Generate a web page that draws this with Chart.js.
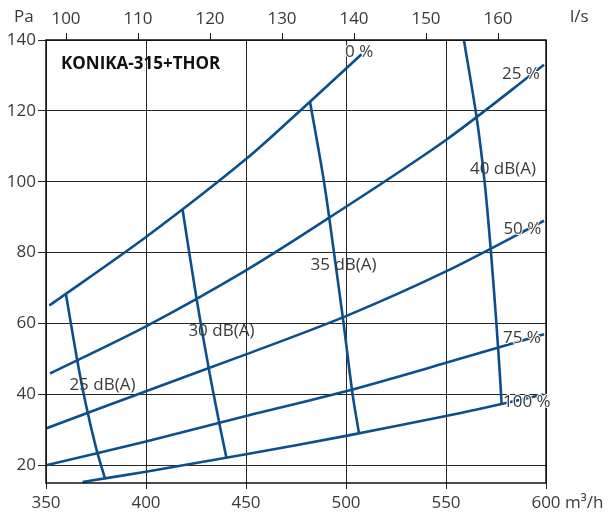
<!DOCTYPE html>
<html>
<head>
<meta charset="utf-8">
<script src="https://cdn.jsdelivr.net/npm/chart.js@4/dist/chart.umd.min.js"></script>
<style>
  body { margin: 0; background: #fff; }
  #wrap { width: 613px; height: 521px; }
</style>
</head>
<body>
<div id="wrap"><canvas id="myChart"></canvas></div>
<script>
// axis ticks
const xTicks = [350, 400, 450, 500, 550, 600];     // m3/h
const lsTicks = [100, 110, 120, 130, 140, 150, 160]; // l/s
const yTicks = [20, 40, 60, 80, 100, 120, 140];    // Pa

// damper opening curves [m3/h, Pa]
const open0 = [[351.7, 65.1], [400, 84.4], [450, 106.4], [482, 122.6], [507.8, 136]];
const open25 = [[352, 45.9], [400, 59.2], [450, 75], [492, 90], [550, 111.8], [599, 133]];
const open50 = [[350, 30.4], [400, 40.9], [450, 51.3], [500, 62.1], [550, 74.7], [599, 89]];
const open75 = [[350, 20], [400, 26.7], [450, 33.9], [500, 40.9], [550, 48.9], [599, 57]];
const open100 = [[368.3, 15.3], [400, 18.2], [450, 23.1], [500, 28.3], [550, 33.9], [577.8, 37.3], [598.7, 40]];

// sound level curves [m3/h, Pa]
const db25 = [[360, 68.2], [365.5, 50], [370, 37], [375, 25], [379.5, 16.2]];
const db30 = [[418.3, 92.1], [425.3, 66.9], [431.7, 46.3], [437, 30.9], [440.3, 21.9]];
const db35 = [[482, 122.6], [489, 100], [494, 80], [498.8, 60], [503.3, 40], [506.5, 29]];
const db40 = [[558.5, 141.5], [565.3, 118.2], [569.3, 100], [572.5, 80], [575.2, 60], [577, 45], [577.8, 37.3]];

const curves = [open0, open25, open50, open75, open100, db25, db30, db35, db40];

// text labels placed in data units (left edge, middle)
const labels = [
    { text: '0 %', x: 499.5, y: 136.6, halo: true },
    { text: '25 %', x: 578, y: 130.3, halo: true },
    { text: '50 %', x: 578.7, y: 86.7, halo: true },
    { text: '75 %', x: 578.5, y: 56, halo: true },
    { text: '100 %', x: 578.5, y: 37.9, halo: true },
    { text: '25 dB(A)', x: 361.7, y: 42.5 },
    { text: '30 dB(A)', x: 421.2, y: 57.8 },
    { text: '35 dB(A)', x: 482.3, y: 76.6 },
    { text: '40 dB(A)', x: 562, y: 103.6 }
];

const blue = '#0b4f8c';
const textColor = '#3a3a3a';
const tickFont = { family: '"Open Sans", sans-serif', size: 17 };

function toPoints(arr) {
    return arr.map(function(p) { return { x: p[0], y: p[1] }; });
}

function setTicks(values) {
    return function(scale) {
        scale.ticks = values.map(function(v) { return { value: v }; });
    };
}

const textPlugin = {
    id: 'texts',
    afterDatasetsDraw(chart) {
        const ctx = chart.ctx;
        const area = chart.chartArea;
        const sx = chart.scales.x;
        const sy = chart.scales.y;
        ctx.save();

        // plot frame
        ctx.strokeStyle = '#111';
        ctx.lineWidth = 1.5;
        ctx.strokeRect(area.left, area.top, area.right - area.left, area.bottom - area.top);

        ctx.font = '17px "Open Sans", sans-serif';
        ctx.textBaseline = 'middle';
        ctx.textAlign = 'left';
        labels.forEach(function(l) {
            const px = sx.getPixelForValue(l.x);
            const py = sy.getPixelForValue(l.y);
            if (l.halo) {
                ctx.strokeStyle = '#fff';
                ctx.lineWidth = 2;
                ctx.strokeText(l.text, px, py);
            }
            ctx.fillStyle = textColor;
            ctx.fillText(l.text, px, py);
        });

        // unit labels
        ctx.fillStyle = textColor;
        ctx.fillText('Pa', area.left - 32, 17);
        ctx.fillText('l/s', area.right + 24, 17);
        ctx.fillText('m³/h', area.right + 19, 503);

        // title
        ctx.font = 'bold 17px "Open Sans", sans-serif';
        ctx.fillStyle = '#111';
        ctx.fillText('KONIKA-315+THOR', area.left + 15, 64);
        ctx.restore();
    }
};

const ctx = document.getElementById('myChart').getContext('2d');
const myChart = new Chart(ctx, {
    type: 'line',
    data: {
        datasets: curves.map(function(c) {
            return {
                data: toPoints(c),
                borderColor: blue,
                borderWidth: 2.6,
                pointRadius: 0,
                tension: 0.3,
                fill: false,
                clip: 0
            };
        })
    },
    options: {
        responsive: true,
        maintainAspectRatio: false,
        animation: false,
        layout: { padding: { left: 0, right: 67, top: 0, bottom: 0 } },
        plugins: {
            legend: { display: false },
            tooltip: { enabled: false }
        },
        scales: {
            x: {
                type: 'linear',
                position: 'bottom',
                min: xTicks[0],
                max: xTicks[xTicks.length - 1],
                afterBuildTicks: setTicks(xTicks),
                afterFit: function(scale) { scale.height = 38; },
                grid: { color: '#262626', lineWidth: 1, tickLength: 6 },
                border: { display: false },
                ticks: { font: tickFont, color: textColor, padding: 4, maxRotation: 0 }
            },
            x2: {
                type: 'linear',
                position: 'top',
                min: xTicks[0] / 3.6,
                max: xTicks[xTicks.length - 1] / 3.6,
                afterBuildTicks: setTicks(lsTicks),
                afterFit: function(scale) { scale.height = 40; },
                grid: { drawOnChartArea: false, color: '#111', tickLength: 7 },
                border: { display: false },
                ticks: { font: tickFont, color: textColor, padding: 4, maxRotation: 0 }
            },
            y: {
                type: 'linear',
                min: 15,
                max: 140,
                afterBuildTicks: setTicks(yTicks),
                afterFit: function(scale) { scale.width = 46; },
                grid: { color: '#262626', lineWidth: 1, tickLength: 8 },
                border: { display: false },
                ticks: { font: tickFont, color: textColor, padding: 2 }
            }
        }
    },
    plugins: [textPlugin]
});
</script>
</body>
</html>
